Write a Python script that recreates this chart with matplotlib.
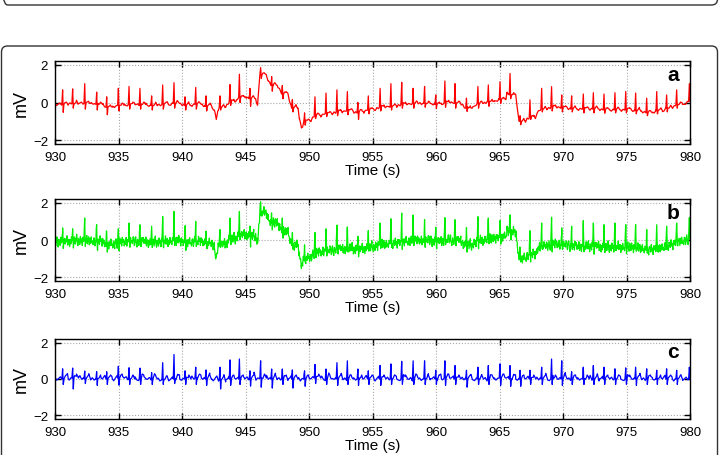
import numpy as np
import matplotlib
matplotlib.use("Agg")
import matplotlib.pyplot as plt
from matplotlib.patches import FancyBboxPatch
from matplotlib.transforms import IdentityTransform

plt.rcParams['font.family'] = ['Liberation Sans', 'DejaVu Sans']

# ---------------- data ----------------
beat_t = [930.60, 931.39, 932.34, 933.28, 934.07, 934.99, 935.83, 936.69, 937.61, 938.48,
          939.37, 940.24, 941.08, 941.89, 942.99, 943.78, 944.52, 945.35, 946.19, 947.06,
          947.90, 948.69, 949.65, 950.47, 951.34, 952.20, 953.02, 953.85, 954.67, 955.60,
          956.45, 957.30, 958.20, 959.10, 959.98, 960.70, 961.50, 962.40, 963.30, 964.12,
          965.04, 965.83, 966.62, 967.40, 968.32, 969.10, 969.90, 970.68, 971.60, 972.39,
          973.23, 974.09, 974.94, 975.72, 976.59, 977.38, 978.16, 978.95, 979.95]

a_base = [-0.10, -0.05, -0.05, -0.10, -0.25, -0.15, -0.10, -0.10, -0.15, -0.10,
          -0.05, -0.15, -0.10, -0.20, -0.25, 0.05, 0.25, 0.20, 1.45, 0.90,
          0.45, -0.30, -1.00, -0.70, -0.60, -0.50, -0.45, -0.50, -0.40, -0.25,
          -0.20, -0.10, -0.05, -0.05, -0.10, 0.00, -0.05, -0.30, -0.05, 0.05,
          0.15, 0.40, -1.00, -0.80, -0.35, -0.25, -0.30, -0.35, -0.35, -0.35,
          -0.40, -0.40, -0.40, -0.45, -0.55, -0.45, -0.30, -0.10, 0.05]
a_peak = [0.67, 0.72, 1.00, 0.55, 0.30, 0.75, 0.85, 0.75, 0.35, 0.93,
          1.05, 0.30, 0.80, 0.35, 0.35, 0.93, 1.50, 0.75, 1.85, 1.37,
          0.90, 0.15, -0.55, 0.30, 0.50, 0.67, 0.58, 0.00, 0.35, 0.75,
          1.00, 1.05, 0.75, 0.85, 0.40, 1.14, 1.00, 0.23, 0.85, 0.93,
          1.10, 1.54, -0.70, 0.14, 0.75, 0.84, 0.40, 0.35, 0.45, 0.52,
          0.45, 0.52, 0.58, 0.50, 0.23, 0.58, 0.40, 0.67, 1.00]
a_trough = [-0.45, -0.30, -0.35, -0.40, -0.65, -0.45, -0.35, -0.35, -0.40, -0.35,
            -0.30, -0.40, -0.35, -0.45, -0.40, -0.15, 0.00, -0.20, 1.30, 0.60,
            0.20, -0.50, -1.20, -0.85, -0.75, -0.70, -0.65, -0.90, -0.60, -0.45,
            -0.40, -0.30, -0.30, -0.25, -0.30, -0.25, -0.30, -0.47, -0.30, -0.20,
            -0.05, 0.20, -1.18, -0.90, -0.50, -0.45, -0.50, -0.50, -0.55, -0.55,
            -0.55, -0.55, -0.55, -0.60, -0.70, -0.60, -0.50, -0.30, 0.05]

wander_t = [930.00, 934.70, 942.55, 942.70, 942.82, 944.35, 945.05, 945.95, 946.80,
            947.65, 948.50, 949.25, 949.40, 949.50, 953.60, 965.60, 966.40, 966.48,
            967.20, 968.05]
wander_v = [-0.10, -0.25, -0.40, -0.90, -0.45, 0.15, 0.30, -0.15, 1.15,
            0.75, 0.00, -0.85, -1.35, -1.30, -0.55, 0.55, -0.30, -0.70,
            -0.85, -0.45]

a_jitter = [0.05, -0.06, 0.02, 0.07, -0.04, -0.07, 0.04, 0.00, -0.05, 0.06, -0.02,
            0.03, -0.06]

b_peak = [0.65, 0.60, 1.18, 0.82, 0.47, 0.60, 0.91, 0.82, 0.74, 1.26,
          1.53, 0.74, 1.00, 0.47, 0.56, 1.18, 1.53, 0.74, 2.05, 1.35,
          1.10, 0.40, -0.30, 0.40, 0.60, 0.80, 0.70, 0.20, 0.50, 0.91,
          1.09, 1.18, 1.20, 1.00, 0.68, 1.20, 1.09, 0.65, 1.09, 1.18,
          1.00, 1.35, -0.45, 0.50, 0.91, 1.20, 0.65, 0.74, 0.82, 0.91,
          0.82, 0.91, 0.82, 0.82, 0.56, 0.82, 0.74, 0.91, 1.18]
b_jitter = [0.18, -0.22, 0.05, 0.27, -0.12, -0.28, 0.14, 0.02, -0.19, 0.24, -0.06,
            0.11, -0.25, 0.20, -0.03, 0.16, -0.17, 0.08, -0.10, 0.26, -0.21, 0.04,
            0.13, -0.27, 0.09, -0.14, 0.22, -0.08, 0.01, -0.18, 0.19]

c_base = [0.00, 0.05, 0.00, 0.00, 0.00, 0.05, 0.00, 0.00, 0.00, -0.05,
          0.00, 0.00, 0.05, 0.00, -0.05, 0.00, 0.00, 0.00, 0.05, 0.00,
          0.00, 0.00, 0.00, 0.05, 0.00, 0.00, 0.00, 0.00, 0.00, 0.00,
          0.00, 0.00, 0.00, 0.00, 0.00, 0.05, 0.00, 0.00, 0.00, 0.00,
          0.05, 0.00, 0.00, 0.00, 0.00, 0.00, 0.00, 0.00, 0.00, 0.00,
          0.00, 0.00, 0.00, 0.00, 0.00, 0.00, 0.00, 0.00, 0.00]
c_peak = [0.56, 0.60, 0.44, 0.40, 0.40, 0.70, 0.62, 0.60, 0.35, 0.90,
          1.35, 0.45, 0.65, 0.50, 0.65, 1.05, 1.10, 0.45, 1.00, 0.55,
          0.55, 0.50, 0.45, 0.80, 0.55, 0.90, 1.00, 0.55, 0.45, 0.75,
          0.83, 0.92, 1.00, 1.00, 0.48, 1.00, 0.74, 0.48, 0.65, 0.74,
          0.83, 0.74, 0.48, 0.48, 0.65, 1.10, 1.00, 0.40, 0.65, 0.74,
          0.65, 0.56, 0.56, 0.65, 0.56, 0.48, 0.56, 0.48, 0.65]
c_trough = [-0.30, -0.55, -0.25, -0.35, -0.30, -0.30, -0.30, -0.30, -0.30, -0.30,
            -0.25, -0.30, -0.30, -0.35, -0.55, -0.35, -0.30, -0.30, -0.45, -0.50,
            -0.30, -0.50, -0.40, -0.25, -0.30, -0.30, -0.30, -0.35, -0.30, -0.35,
            -0.30, -0.30, -0.30, -0.30, -0.30, -0.35, -0.30, -0.45, -0.30, -0.30,
            -0.35, -0.40, -0.40, -0.30, -0.30, -0.30, -0.35, -0.30, -0.30, -0.30,
            -0.30, -0.30, -0.30, -0.30, -0.30, -0.30, -0.30, -0.30, 0.00]
c_jitter = [0.07, -0.06, 0.02, 0.12, -0.05, -0.09, 0.05, 0.20, -0.07, 0.03, -0.02,
            0.08, -0.11, 0.03, 0.15, -0.04, 0.06, -0.08, 0.01, 0.10, -0.05]

x_ticks = [930, 935, 940, 945, 950, 955, 960, 965, 970, 975, 980]
y_ticks = [-2, 0, 2]
panel_letters = ['a', 'b', 'c']
colors = ['#ff0000', '#00ee00', '#0000ff']


# ---------------- build traces ----------------
def build(base, peak, trough, tw, extra_t=(), extra_v=()):
    t, v = [], []
    for bt, b0, p, s in zip(beat_t, base, peak, trough):
        t += [bt - 0.06, bt, bt + 0.05, bt + 0.10, bt + 0.30, bt + 0.45]
        v += [b0, p, s, b0, b0 + tw, b0]
    t += list(extra_t)
    v += list(extra_v)
    order = np.argsort(t)
    return np.asarray(t)[order], np.asarray(v)[order]


def add_jitter(t0, v0, jitter, step):
    tn = np.arange(930.0, 980.0, step)
    jn = np.array([jitter[k % len(jitter)] for k in range(len(tn))])
    vn = np.interp(tn, t0, v0) + jn
    t = np.concatenate([t0, tn])
    v = np.concatenate([v0, vn])
    o = np.argsort(t, kind='stable')
    return t[o], v[o]


ta, va = add_jitter(*build(a_base, a_peak, a_trough, 0.12, wander_t, wander_v), a_jitter, 0.13)
tb, vb = add_jitter(*build(a_base, b_peak, a_trough, 0.10, wander_t, wander_v), b_jitter, 0.05)
tc, vc = add_jitter(*build(c_base, c_peak, c_trough, 0.22), c_jitter, 0.14)

traces = [(ta, va), (tb, vb), (tc, vc)]

# ---------------- figure ----------------
fig = plt.figure(figsize=(7.19, 4.56), dpi=100)
fig.patch.set_facecolor('white')

H = 456
fr1 = FancyBboxPatch((1.5, H - 6), 716, 40, boxstyle="round,pad=0,rounding_size=6",
                     transform=IdentityTransform(), fill=False, edgecolor='#333333', lw=1.0)
fr2 = FancyBboxPatch((1.5, -30), 716, H - 47 + 30, boxstyle="round,pad=0,rounding_size=6",
                     transform=IdentityTransform(), fill=False, edgecolor='#333333', lw=1.0)
fig.add_artist(fr1)
fig.add_artist(fr2)

boxes = [(55, 62, 145), (55, 200, 282), (55, 340, 420)]
for i, ((l, top, bot), (tt, vv)) in enumerate(zip(boxes, traces)):
    ax = fig.add_axes([l / 719, 1 - bot / H, 635 / 719, (bot - top) / H])
    ax.plot(tt, vv, color=colors[i], lw=0.9)
    ax.set_xlim(930, 980)
    ax.set_ylim(-2.2, 2.2)
    ax.set_xticks(x_ticks)
    ax.set_yticks(y_ticks)
    ax.grid(True, linestyle=':', color='#a8a8a8', lw=0.8)
    ax.tick_params(direction='in', top=True, right=True, length=4, width=1.0,
                   labelsize=9.5, pad=5)
    for sp in ax.spines.values():
        sp.set_linewidth(1.0)
    ax.set_xlabel('Time (s)', fontsize=11, labelpad=0)
    ax.set_ylabel('mV', fontsize=13, labelpad=2)
    ax.text(0.973, 0.84, panel_letters[i], transform=ax.transAxes, fontsize=15,
            fontweight='bold', ha='center', va='center')

fig.savefig('out.png', dpi=100)
